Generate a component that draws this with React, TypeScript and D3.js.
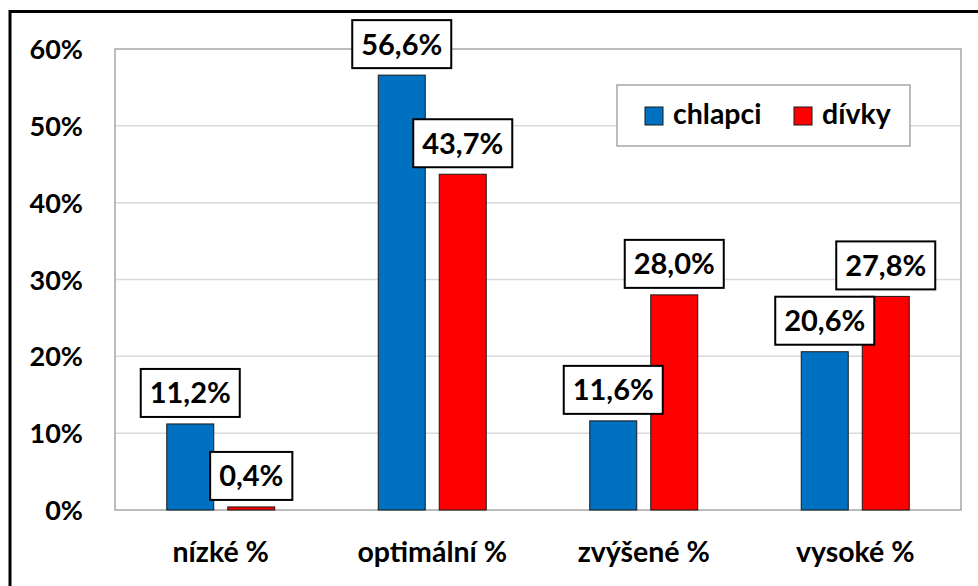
import React, { useEffect, useRef } from "react";
import * as d3 from "d3";

const categories = ["nízké %", "optimální %", "zvýšené %", "vysoké %"];
const chlapci = [11.2, 56.6, 11.6, 20.6];
const divky = [0.4, 43.7, 28.0, 27.8];
const seriesNames = ["chlapci", "dívky"];
const yTicks = [0, 10, 20, 30, 40, 50, 60];

const W = 978;
const H = 586;
const FONT = "Lato, 'Open Sans', sans-serif";
const BLUE = "#0070c0";
const RED = "#ff0000";

export default function App() {
  const ref = useRef<SVGSVGElement | null>(null);

  useEffect(() => {
    const svg = d3.select(ref.current);
    svg.selectAll("*").remove();

    const left = 115, right = 961, top = 49, bottom = 510;
    const x = d3.scaleBand<string>().domain(categories).range([left, right]);
    const y = d3.scaleLinear().domain([0, 60]).range([bottom, top]);

    svg.append("rect").attr("width", W).attr("height", H).attr("fill", "#fff");

    // outer chart border (extends past right/bottom)
    svg.append("rect")
      .attr("x", 10).attr("y", 11.5).attr("width", W + 20).attr("height", H + 20)
      .attr("fill", "none").attr("stroke", "#000").attr("stroke-width", 3);

    // gridlines
    svg.append("g").selectAll("line").data(yTicks.filter(t => t > 0 && t < 60)).join("line")
      .attr("x1", left).attr("x2", right)
      .attr("y1", d => y(d)).attr("y2", d => y(d))
      .attr("stroke", "#d9d9d9").attr("stroke-width", 1.5);

    // plot area border
    svg.append("rect")
      .attr("x", left).attr("y", top).attr("width", right - left).attr("height", bottom - top)
      .attr("fill", "none").attr("stroke", "#a6a6a6").attr("stroke-width", 1.5);

    // y tick labels
    svg.append("g").selectAll("text").data(yTicks).join("text")
      .attr("x", 83).attr("y", d => y(d) + 10)
      .attr("text-anchor", "end")
      .attr("font-family", FONT).attr("font-weight", 700).attr("font-size", 27)
      .attr("fill", "#000")
      .text(d => `${d}%`);

    const bw = 47, gap = 7;
    const series = [
      { values: chlapci, color: BLUE, off: -gap - bw },
      { values: divky, color: RED, off: gap },
    ];

    // bars
    series.forEach(s => {
      svg.append("g").selectAll("rect").data(categories).join("rect")
        .attr("x", c => (x(c)! + x.bandwidth() / 2) + s.off)
        .attr("width", bw)
        .attr("y", (c, i) => y(s.values[i]))
        .attr("height", (c, i) => bottom - y(s.values[i]))
        .attr("fill", s.color)
        .attr("stroke", "#1a1a1a").attr("stroke-width", 1);
    });

    // x category labels
    svg.append("g").selectAll("text").data(categories).join("text")
      .attr("x", c => x(c)! + x.bandwidth() / 2)
      .attr("y", 562)
      .attr("text-anchor", "middle")
      .attr("font-family", FONT).attr("font-weight", 700).attr("font-size", 28.5)
      .attr("fill", "#000")
      .text(c => c);

    // data labels
    const fmt = (v: number) => v.toFixed(1).replace(".", ",") + "%";
    series.forEach(s => {
      categories.forEach((c, i) => {
        const cx = x(c)! + x.bandwidth() / 2 + s.off + bw / 2;
        const boxBottom = y(s.values[i]) - 7;
        const boxH = 48;
        const g = svg.append("g");
        const rect = g.append("rect");
        const t = g.append("text")
          .attr("x", cx).attr("y", boxBottom - boxH / 2 + 10.5)
          .attr("text-anchor", "middle")
          .attr("font-family", FONT).attr("font-weight", 700).attr("font-size", 29)
          .attr("fill", "#000")
          .text(fmt(s.values[i]));
        const tw = (t.node() as SVGTextElement).getComputedTextLength();
        const bwid = tw + 18;
        rect.attr("x", cx - bwid / 2).attr("y", boxBottom - boxH)
          .attr("width", bwid).attr("height", boxH)
          .attr("fill", "#fff").attr("stroke", "#000").attr("stroke-width", 2);
      });
    });

    // legend
    const lg = svg.append("g");
    lg.append("rect").attr("x", 617).attr("y", 85).attr("width", 293).attr("height", 61)
      .attr("fill", "#fff").attr("stroke", "#a6a6a6").attr("stroke-width", 1.5);
    const legendX = [645, 794];
    seriesNames.forEach((n, i) => {
      lg.append("rect").attr("x", legendX[i]).attr("y", 107).attr("width", 18).attr("height", 18)
        .attr("fill", i === 0 ? BLUE : RED).attr("stroke", "#1a1a1a").attr("stroke-width", 1);
      lg.append("text").attr("x", legendX[i] + 28).attr("y", 124)
        .attr("font-family", FONT).attr("font-weight", 700).attr("font-size", 28.5)
        .attr("fill", "#000").text(n);
    });
  }, []);

  return (
    <svg ref={ref} width={W} height={H}
      style={{ position: "absolute", left: 0, top: 0, display: "block" }} />
  );
}
